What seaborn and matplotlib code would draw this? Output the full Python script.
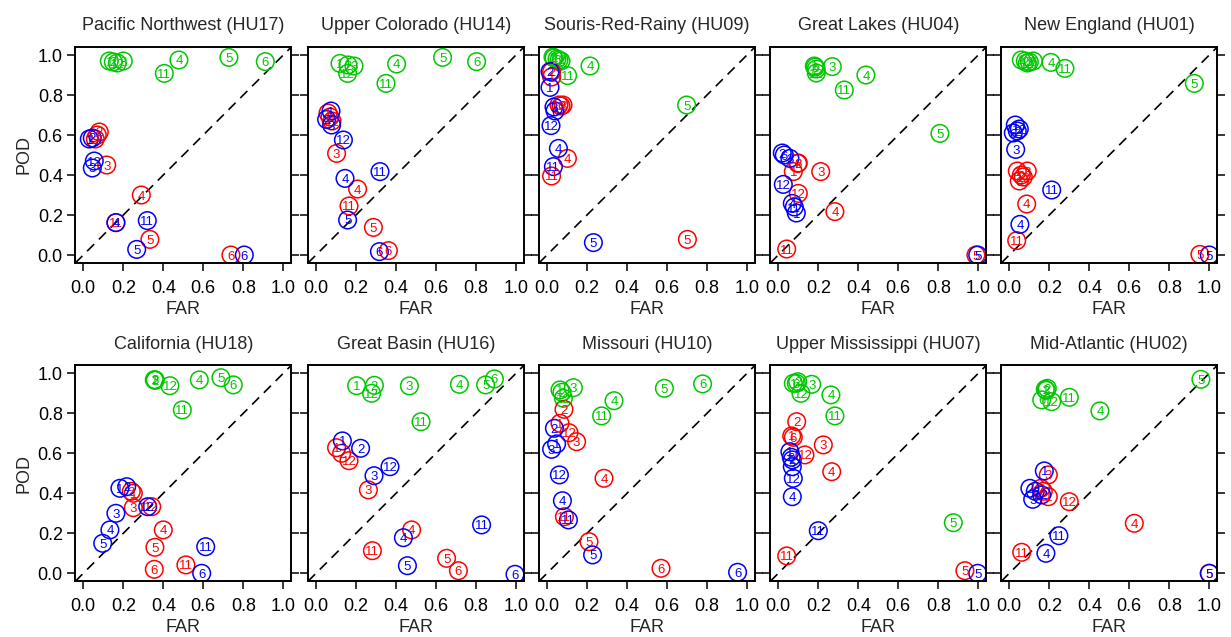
# -*- coding: utf-8 -*-

import matplotlib
matplotlib.use('Agg')
import matplotlib.pyplot as plt
import pandas as pd
import seaborn as sns

months = [1, 2, 3, 4, 5, 6, 11, 12]
regions = ['Pacific Northwest (HU17)', 'Upper Colorado (HU14)', 'Souris-Red-Rainy (HU09)',
           'Great Lakes (HU04)', 'New England (HU01)', 'California (HU18)',
           'Great Basin (HU16)', 'Missouri (HU10)', 'Upper Mississippi (HU07)',
           'Mid-Atlantic (HU02)']
ticks = [0.0, 0.2, 0.4, 0.6, 0.8, 1.0]
tick_labels = ['0.0', '0.2', '0.4', '0.6', '0.8', '1.0']

# values per region, month order = months
far_green = {
    'Pacific Northwest (HU17)': [0.13, 0.15, 0.20, 0.478, 0.728, 0.91, 0.405, 0.17],
    'Upper Colorado (HU14)': [0.12, 0.16, 0.19, 0.403, 0.633, 0.803, 0.35, 0.158],
    'Souris-Red-Rainy (HU09)': [0.03, 0.035, 0.07, 0.215, 0.698, 0.05, 0.103, 0.06],
    'Great Lakes (HU04)': [0.18, 0.19, 0.27, 0.438, 0.808, 0.185, 0.33, 0.19],
    'New England (HU01)': [0.06, 0.08, 0.10, 0.208, 0.925, 0.12, 0.278, 0.09],
    'California (HU18)': [0.355, 0.36, 0.358, 0.58, 0.688, 0.75, 0.495, 0.433],
    'Great Basin (HU16)': [0.203, 0.292, 0.467, 0.717, 0.848, 0.892, 0.525, 0.278],
    'Missouri (HU10)': [0.065, 0.075, 0.132, 0.335, 0.587, 0.778, 0.273, 0.082],
    'Upper Mississippi (HU07)': [0.075, 0.097, 0.167, 0.263, 0.875, 0.09, 0.283, 0.113],
    'Mid-Atlantic (HU02)': [0.18, 0.19, 0.185, 0.453, 0.958, 0.162, 0.30, 0.212],
}
pod_green = {
    'Pacific Northwest (HU17)': [0.97, 0.965, 0.97, 0.975, 0.988, 0.967, 0.908, 0.96],
    'Upper Colorado (HU14)': [0.958, 0.95, 0.945, 0.955, 0.988, 0.967, 0.858, 0.908],
    'Souris-Red-Rainy (HU09)': [0.99, 0.985, 0.97, 0.945, 0.75, 0.98, 0.897, 0.975],
    'Great Lakes (HU04)': [0.945, 0.93, 0.942, 0.90, 0.608, 0.94, 0.825, 0.91],
    'New England (HU01)': [0.975, 0.97, 0.965, 0.963, 0.858, 0.97, 0.933, 0.96],
    'California (HU18)': [0.967, 0.965, 0.968, 0.967, 0.978, 0.942, 0.817, 0.938],
    'Great Basin (HU16)': [0.938, 0.94, 0.937, 0.945, 0.942, 0.972, 0.758, 0.90],
    'Missouri (HU10)': [0.917, 0.905, 0.928, 0.863, 0.925, 0.947, 0.787, 0.875],
    'Upper Mississippi (HU07)': [0.95, 0.958, 0.945, 0.892, 0.253, 0.95, 0.787, 0.90],
    'Mid-Atlantic (HU02)': [0.92, 0.925, 0.915, 0.812, 0.97, 0.867, 0.88, 0.858],
}
far_red = {
    'Pacific Northwest (HU17)': [0.07, 0.08, 0.117, 0.29, 0.333, 0.738, 0.163, 0.06],
    'Upper Colorado (HU14)': [0.06, 0.07, 0.103, 0.208, 0.287, 0.362, 0.165, 0.08],
    'Souris-Red-Rainy (HU09)': [0.023, 0.023, 0.08, 0.102, 0.702, 0.07, 0.023, 0.06],
    'Great Lakes (HU04)': [0.075, 0.097, 0.212, 0.283, 0.988, 0.10, 0.042, 0.10],
    'New England (HU01)': [0.04, 0.06, 0.09, 0.087, 0.953, 0.05, 0.037, 0.07],
    'California (HU18)': [0.25, 0.24, 0.25, 0.40, 0.358, 0.355, 0.513, 0.342],
    'Great Basin (HU16)': [0.103, 0.128, 0.262, 0.478, 0.653, 0.712, 0.282, 0.165],
    'Missouri (HU10)': [0.065, 0.085, 0.148, 0.285, 0.21, 0.57, 0.087, 0.11],
    'Upper Mississippi (HU07)': [0.067, 0.092, 0.225, 0.267, 0.933, 0.075, 0.042, 0.133],
    'Mid-Atlantic (HU02)': [0.195, 0.158, 0.195, 0.625, 1.0, 0.17, 0.062, 0.30],
}
pod_red = {
    'Pacific Northwest (HU17)': [0.60, 0.615, 0.45, 0.30, 0.078, 0.0, 0.162, 0.58],
    'Upper Colorado (HU14)': [0.71, 0.69, 0.508, 0.33, 0.138, 0.022, 0.245, 0.67],
    'Souris-Red-Rainy (HU09)': [0.89, 0.917, 0.75, 0.483, 0.078, 0.745, 0.395, 0.75],
    'Great Lakes (HU04)': [0.417, 0.458, 0.417, 0.217, 0.0, 0.46, 0.03, 0.308],
    'New England (HU01)': [0.42, 0.40, 0.42, 0.255, 0.003, 0.37, 0.072, 0.39],
    'California (HU18)': [0.40, 0.41, 0.328, 0.217, 0.13, 0.02, 0.042, 0.333],
    'Great Basin (HU16)': [0.628, 0.60, 0.417, 0.217, 0.075, 0.013, 0.113, 0.563],
    'Missouri (HU10)': [0.75, 0.82, 0.658, 0.475, 0.158, 0.025, 0.283, 0.703],
    'Upper Mississippi (HU07)': [0.687, 0.758, 0.642, 0.508, 0.013, 0.68, 0.087, 0.592],
    'Mid-Atlantic (HU02)': [0.383, 0.425, 0.492, 0.25, 0.0, 0.41, 0.105, 0.358],
}
far_blue = {
    'Pacific Northwest (HU17)': [0.03, 0.045, 0.045, 0.163, 0.267, 0.805, 0.32, 0.055],
    'Upper Colorado (HU14)': [0.075, 0.053, 0.078, 0.145, 0.158, 0.317, 0.32, 0.137],
    'Souris-Red-Rainy (HU09)': [0.015, 0.015, 0.035, 0.057, 0.232, 0.04, 0.032, 0.02],
    'Great Lakes (HU04)': [0.09, 0.02, 0.058, 0.07, 0.997, 0.03, 0.08, 0.025],
    'New England (HU01)': [0.03, 0.04, 0.032, 0.053, 1.0, 0.02, 0.212, 0.05],
    'California (HU18)': [0.183, 0.217, 0.163, 0.133, 0.097, 0.592, 0.612, 0.322],
    'Great Basin (HU16)': [0.132, 0.223, 0.29, 0.437, 0.457, 0.995, 0.828, 0.37],
    'Missouri (HU10)': [0.048, 0.037, 0.023, 0.077, 0.228, 0.953, 0.107, 0.062],
    'Upper Mississippi (HU07)': [0.058, 0.07, 0.07, 0.07, 0.997, 0.065, 0.20, 0.075],
    'Mid-Atlantic (HU02)': [0.175, 0.103, 0.117, 0.183, 1.0, 0.13, 0.248, 0.162],
}
pod_blue = {
    'Pacific Northwest (HU17)': [0.58, 0.585, 0.435, 0.162, 0.028, 0.0, 0.172, 0.47],
    'Upper Colorado (HU14)': [0.72, 0.678, 0.65, 0.383, 0.175, 0.017, 0.417, 0.575],
    'Souris-Red-Rainy (HU09)': [0.838, 0.917, 0.74, 0.533, 0.062, 0.72, 0.442, 0.647],
    'Great Lakes (HU04)': [0.21, 0.51, 0.483, 0.258, 0.0, 0.50, 0.24, 0.353],
    'New England (HU01)': [0.65, 0.62, 0.528, 0.153, 0.0, 0.61, 0.325, 0.63],
    'California (HU18)': [0.425, 0.433, 0.30, 0.217, 0.15, 0.0, 0.133, 0.333],
    'Great Basin (HU16)': [0.662, 0.625, 0.488, 0.178, 0.038, -0.005, 0.242, 0.533],
    'Missouri (HU10)': [0.647, 0.725, 0.62, 0.363, 0.092, 0.005, 0.267, 0.492],
    'Upper Mississippi (HU07)': [0.608, 0.567, 0.533, 0.383, 0.0, 0.58, 0.213, 0.475],
    'Mid-Atlantic (HU02)': [0.512, 0.425, 0.37, 0.10, 0.0, 0.41, 0.188, 0.392],
}

palette = {'green': '#00C800', 'red': '#FF0000', 'blue': '#0000FF'}
series = [('green', far_green, pod_green), ('red', far_red, pod_red), ('blue', far_blue, pod_blue)]

sns.set_theme(style='ticks')
plt.rcParams['font.family'] = ['Liberation Sans', 'DejaVu Sans']

fig = plt.figure(figsize=(12.31, 6.37), dpi=100)
W, H = 1231, 637
lefts = [75.3, 308, 539, 770.3, 1001.3]
bottoms = [263, 581.3]
size = 216

for i, region in enumerate(regions):
    row, col = divmod(i, 5)
    ax = fig.add_axes([lefts[col] / W, (H - bottoms[row]) / H, size / W, size / H])

    ax.axline((0, 0), slope=1, color='black', lw=1.2, ls=(0, (6, 4)), zorder=1)

    for name, far, pod in series:
        df = pd.DataFrame({'FAR': far[region], 'POD': pod[region], 'month': months, 'kind': name})
        sns.scatterplot(data=df, x='FAR', y='POD', hue='kind', palette=palette, s=160,
                        linewidth=1.1, legend=False, ax=ax, zorder=2)
        coll = ax.collections[-1]
        coll.set_edgecolors(palette[name])
        coll.set_facecolors('none')
        for fx, py, m in zip(df['FAR'], df['POD'], df['month']):
            ax.text(fx, py, str(m), color=palette[name], fontsize=9.5,
                    ha='center', va='center_baseline', zorder=3)

    ax.set_xlim(-0.04, 1.04)
    ax.set_ylim(-0.04, 1.04)
    ax.set_xticks(ticks)
    ax.set_xticklabels(tick_labels)
    ax.set_yticks(ticks)
    if col == 0:
        ax.set_yticklabels(tick_labels)
        ax.set_ylabel('POD', fontsize=13, labelpad=4)
    else:
        ax.set_yticklabels([])
        ax.set_ylabel('')
    ax.set_xlabel('FAR', fontsize=13, labelpad=3)
    ax.set_title(region, fontsize=13, pad=12)
    ax.tick_params(axis='x', direction='out', length=6, width=1.1, labelsize=13, pad=6, colors='black')
    ax.tick_params(axis='y', direction='out', length=6, width=1.1, labelsize=13, pad=3,
                   right=True, colors='black')
    for sp in ax.spines.values():
        sp.set_visible(True)
        sp.set_linewidth(1.4)
        sp.set_color('black')

fig.savefig('out.png', dpi=100)
